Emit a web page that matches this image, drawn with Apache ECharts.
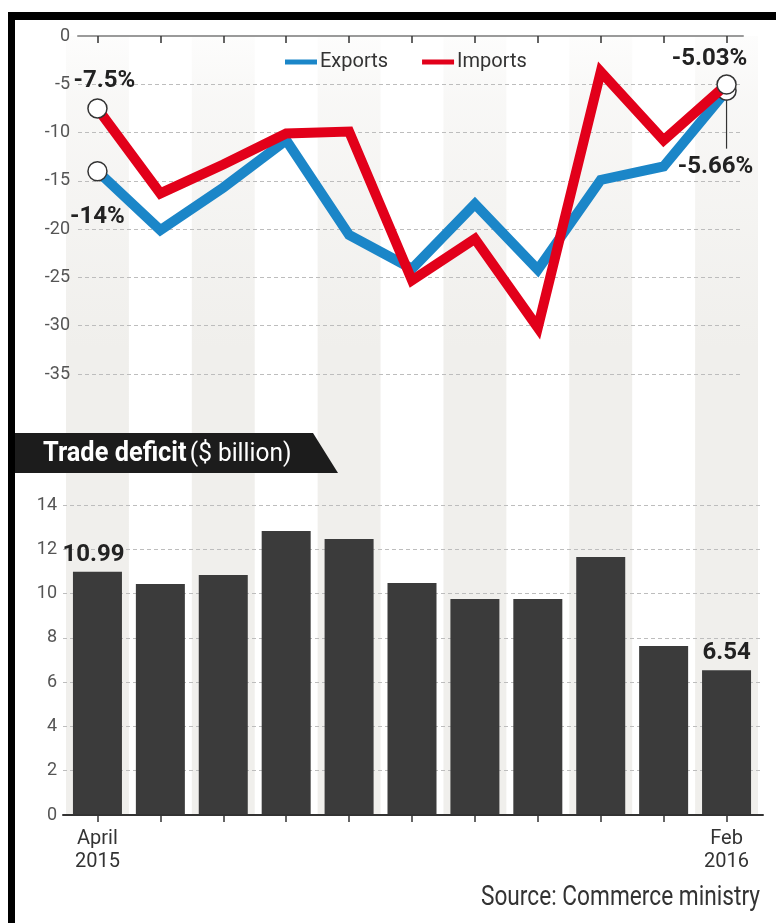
<!DOCTYPE html>
<html>
<head>
<meta charset="utf-8">
<style>
  html, body { margin: 0; padding: 0; background: #ffffff; }
  #chart { width: 776px; height: 923px; }
</style>
<script src="https://cdn.jsdelivr.net/npm/echarts@6/dist/echarts.min.js"></script>
</head>
<body>
<div id="chart"></div>
<script>
// Monthly trade figures, April 2015 - February 2016
const months = ['April 2015', 'May 2015', 'June 2015', 'July 2015', 'Aug 2015', 'Sept 2015',
                'Oct 2015', 'Nov 2015', 'Dec 2015', 'Jan 2016', 'Feb 2016'];
const monthTickLabels = ['April\n2015', '', '', '', '', '', '', '', '', '', 'Feb\n2016'];

// Year-on-year growth, %
const exportsGrowth = [-14, -20.1, -15.7, -10.8, -20.6, -24.1, -17.4, -24.2, -14.9, -13.5, -5.66];
const importsGrowth = [-7.5, -16.3, -13.3, -10.1, -9.9, -25.3, -21.0, -30.2, -3.7, -10.8, -5.03];

// Trade deficit, $ billion
const tradeDeficit = [10.99, 10.43, 10.84, 12.83, 12.47, 10.48, 9.76, 9.76, 11.65, 7.63, 6.54];

const BLUE = '#1b86c8';
const RED = '#e2001a';
const BAR = '#3b3b3b';
const INK = '#222222';
const AXIS_TEXT = '#555555';
const GRID_DASH = '#bdbdbd';
const STRIPE = '#f0efec';
const FONT = 'Roboto, "Noto Sans", sans-serif';
// horizontal squeeze for the condensed heading and credit line
const HEADING_SCALE = 0.94;
const CREDIT_SCALE = 0.84;

const last = months.length - 1;

const endLabel = {
  show: true,
  fontFamily: FONT,
  fontSize: 24,
  fontWeight: 'bold',
  color: INK,
  formatter: p => p.value + '%'
};
const ringStyle = { color: '#ffffff', borderColor: '#333333', borderWidth: 1.5 };

// Per-series placement of the first/last value callouts
const calloutPlacement = {
  exports: [{ position: 'bottom', distance: 5, offset: [0, 19] },
            { position: 'bottom', distance: 5, offset: [-11, 49] }],
  imports: [{ position: 'top', distance: 5, offset: [7, 0] },
            { position: 'top', distance: 5, offset: [-17, 2] }]
};

function growthData(values, key) {
  return values.map((v, i) => {
    if (i === 0 || i === last) {
      const place = calloutPlacement[key][i === 0 ? 0 : 1];
      return {
        value: v,
        symbol: 'circle',
        symbolSize: 19,
        itemStyle: ringStyle,
        label: Object.assign({}, endLabel, place)
      };
    }
    return { value: v, symbol: 'none', symbolSize: 0 };
  });
}

function deficitData(values) {
  return values.map((v, i) => {
    if (i === 0 || i === last) {
      return {
        value: v,
        label: {
          show: true,
          position: 'top',
          distance: 5,
          offset: i === 0 ? [-4, 0] : [0, 0],
          fontFamily: FONT,
          fontSize: 24,
          fontWeight: 'bold',
          color: INK,
          formatter: p => p.value.toFixed(2)
        }
      };
    }
    return v;
  });
}

// 8 split lines on the growth axis (-35 ... 0); the 0 line is drawn solid by the top axis line
const growthSplitColors = [GRID_DASH, GRID_DASH, GRID_DASH, GRID_DASH, GRID_DASH, GRID_DASH, GRID_DASH, 'rgba(0,0,0,0)'];
// 8 split lines on the deficit axis (0 ... 14); the 0 line is the solid base axis
const deficitSplitColors = ['rgba(0,0,0,0)', GRID_DASH, GRID_DASH, GRID_DASH, GRID_DASH, GRID_DASH, GRID_DASH, GRID_DASH];

const stripeFill = {
  type: 'linear', x: 0, y: 0, x2: 0, y2: 1,
  colorStops: [
    { offset: 0, color: 'rgba(240,239,236,0.15)' },
    { offset: 0.08, color: 'rgba(240,239,236,0.45)' },
    { offset: 0.4, color: STRIPE },
    { offset: 1, color: STRIPE }
  ]
};

const chart = echarts.init(document.getElementById('chart'), null, { renderer: 'canvas' });

const option = {
  animation: false,
  backgroundColor: '#ffffff',
  textStyle: { fontFamily: FONT },
  legend: {
    data: ['Exports', 'Imports'],
    left: 285,
    top: 52,
    icon: 'rect',
    itemWidth: 32,
    itemHeight: 5,
    itemGap: 34,
    padding: 0,
    textStyle: { fontFamily: FONT, fontSize: 20, color: '#333333', padding: [0, 0, 0, -2] }
  },
  grid: [
    // 0: growth gridlines and tick labels
    { left: 78, right: 33, top: 36, height: 338 },
    // 1: growth lines
    { left: 66, right: 18, top: 36, height: 338 },
    // 2: deficit gridlines and tick labels
    { left: 63, right: 13, top: 505, height: 310 },
    // 3: deficit bars
    { left: 66, right: 18, top: 505, height: 310 },
    // 4: alternating month stripes behind both panels
    { left: 66, right: 18, top: 36, height: 779 }
  ],
  xAxis: [
    { gridIndex: 0, type: 'category', data: months, position: 'top', z: 1,
      axisLine: { show: true, lineStyle: { color: '#9a9a9a', width: 2 } },
      axisTick: { show: false }, axisLabel: { show: false }, splitLine: { show: false } },
    { gridIndex: 1, type: 'category', data: months, z: 1,
      axisLine: { show: false },
      axisTick: { show: true, alignWithLabel: true, interval: 0, length: 7, lineStyle: { color: '#333333', width: 1.5 } },
      axisLabel: { show: false }, splitLine: { show: false } },
    { gridIndex: 2, type: 'category', data: months, z: 3,
      axisLine: { show: true, lineStyle: { color: '#333333', width: 2 } },
      axisTick: { show: false }, axisLabel: { show: false }, splitLine: { show: false } },
    { gridIndex: 3, type: 'category', data: months, z: 1,
      axisLine: { show: false },
      axisTick: { show: true, alignWithLabel: true, interval: 0, length: 7, lineStyle: { color: '#333333', width: 1.5 } },
      axisLabel: {
        show: true, interval: 0, margin: 12,
        fontFamily: FONT, fontSize: 20, lineHeight: 23, color: '#333333',
        formatter: (val, idx) => monthTickLabels[idx]
      },
      splitLine: { show: false } },
    { gridIndex: 4, type: 'category', data: months, z: 0,
      axisLine: { show: false }, axisTick: { show: false },
      axisLabel: { show: false, interval: 0 },
      splitLine: { show: false },
      splitArea: { show: true, interval: 0, areaStyle: { color: [stripeFill, 'rgba(0,0,0,0)'] } } }
  ],
  yAxis: [
    { gridIndex: 0, type: 'value', min: -35, max: 0, interval: 5, z: 1,
      axisLine: { show: false }, axisTick: { show: false },
      axisLabel: { margin: 8, fontFamily: FONT, fontSize: 18, color: AXIS_TEXT },
      splitLine: { show: true, lineStyle: { color: growthSplitColors, type: [4, 3], width: 1.2 } } },
    { gridIndex: 1, type: 'value', min: -35, max: 0, interval: 5, show: false },
    { gridIndex: 2, type: 'value', min: 0, max: 14, interval: 2, z: 1,
      axisLine: { show: false }, axisTick: { show: false },
      axisLabel: { margin: 6, fontFamily: FONT, fontSize: 18, color: AXIS_TEXT },
      splitLine: { show: true, lineStyle: { color: deficitSplitColors, type: [4, 3], width: 1.2 } } },
    { gridIndex: 3, type: 'value', min: 0, max: 14, interval: 2, show: false },
    { gridIndex: 4, type: 'value', show: false }
  ],
  series: [
    {
      name: 'Exports', type: 'line', xAxisIndex: 1, yAxisIndex: 1,
      data: growthData(exportsGrowth, 'exports'),
      showAllSymbol: true,
      color: BLUE,
      lineStyle: { color: BLUE, width: 10, join: 'miter' },
      z: 3
    },
    {
      name: 'Imports', type: 'line', xAxisIndex: 1, yAxisIndex: 1,
      data: growthData(importsGrowth, 'imports'),
      showAllSymbol: true,
      color: RED,
      lineStyle: { color: RED, width: 10, join: 'miter' },
      z: 4
    },
    {
      name: 'Trade deficit', type: 'bar', xAxisIndex: 3, yAxisIndex: 3,
      data: deficitData(tradeDeficit),
      barWidth: 49,
      itemStyle: { color: BAR },
      z: 2
    }
  ],
  graphic: [
    // frame edges
    { id: 'frameTop', type: 'rect', z: 20, shape: { x: 8, y: 12, width: 768, height: 8 }, style: { fill: '#000000' } },
    { id: 'frameLeft', type: 'rect', z: 20, shape: { x: 8, y: 12, width: 7, height: 911 }, style: { fill: '#000000' } },
    // panel heading tab
    { id: 'tab', type: 'polygon', z: 15,
      shape: { points: [[15, 433], [313, 433], [338, 473], [15, 473]] },
      style: { fill: '#1c1c1c' } },
    { id: 'tabText', type: 'text', z: 16, x: 43, y: 454, scaleX: HEADING_SCALE,
      style: {
        text: '{b|Trade deficit} {r|($ billion)}',
        verticalAlign: 'middle',
        rich: {
          b: { fontFamily: FONT, fontWeight: 'bold', fontSize: 27, fill: '#ffffff' },
          r: { fontFamily: FONT, fontSize: 26, fill: '#ffffff' }
        }
      } },
    { id: 'source', type: 'text', z: 16, x: 760, y: 898, scaleX: CREDIT_SCALE,
      style: { text: 'Source: Commerce ministry', align: 'right', verticalAlign: 'middle',
               fontFamily: FONT, fontSize: 27, fill: '#333333' } }
  ]
};

chart.setOption(option);

// Leader from the last exports marker down to its callout
const endPt = chart.convertToPixel({ seriesIndex: 0 }, [last, exportsGrowth[last]]);
chart.setOption({
  graphic: [{
    id: 'leader', type: 'line', z: 5,
    shape: { x1: endPt[0], y1: endPt[1] + 9, x2: endPt[0], y2: endPt[1] + 58 },
    style: { stroke: '#333333', lineWidth: 1.2 }
  }]
});
</script>
</body>
</html>
